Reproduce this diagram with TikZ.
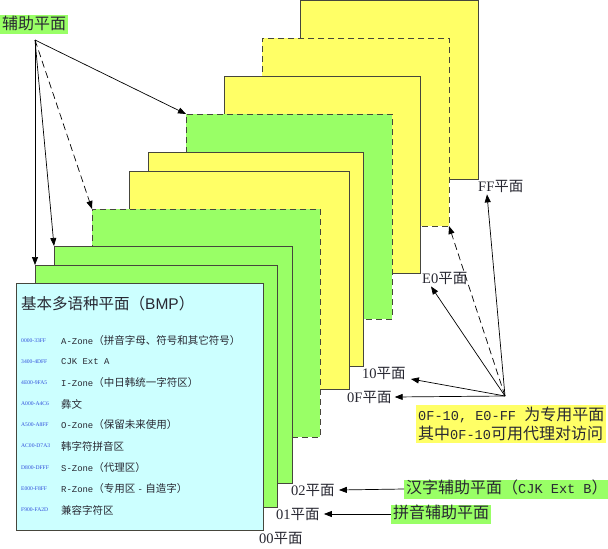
\documentclass[tikz,border=0pt]{standalone}
\usepackage{fontspec}
\setmainfont{Liberation Serif}
\newfontfamily\cjk{Noto Sans CJK SC}
\newfontfamily\mono[Scale=0.85]{Liberation Mono}
\newfontfamily\sansf{Liberation Sans}
\usetikzlibrary{arrows.meta}
\definecolor{yel}{RGB}{255,255,102}
\definecolor{grn}{RGB}{153,255,102}
\definecolor{cyn}{RGB}{204,255,255}
\definecolor{edgec}{RGB}{70,70,60}
\definecolor{codeblue}{RGB}{50,80,220}
\definecolor{txt}{RGB}{40,40,50}
\begin{document}
\begin{tikzpicture}[x=1pt,y=-1pt,
  plane/.style={draw=edgec, line width=0.9pt, inner sep=0pt, outer sep=0pt, anchor=north west},
  dplane/.style={plane, dash pattern=on 6pt off 4pt},
  arr/.style={-{Triangle[length=8pt,width=6pt]}, line width=0.7pt, black},
  darr/.style={arr, dash pattern=on 7pt off 4pt},
  lbl/.style={font=\fontsize{14.5}{16}\selectfont, inner sep=1pt, anchor=west, text=txt},
  tag/.style={font=\cjk\fontsize{16}{19}\selectfont, inner xsep=2pt, inner ysep=1pt, text height=13pt, text depth=4pt, text=txt},
  code/.style={font=\fontsize{5.6}{6}\selectfont, text=codeblue, inner sep=0pt, anchor=west},
  row/.style={font=\cjk\fontsize{10.5}{12}\selectfont, text=txt, inner sep=0pt, anchor=west}
]
\useasboundingbox (0,0) rectangle (608,549);
% planes, back to front
\node[plane, fill=yel, minimum width=178pt, minimum height=178.5pt] (pFF) at (300,0.5) {};
\node[dplane, fill=yel, minimum width=187pt, minimum height=188pt] (pDy) at (262,38) {};
\node[plane, fill=yel, minimum width=196pt, minimum height=197pt] (pE0) at (224,76) {};
\node[dplane, fill=grn, minimum width=206pt, minimum height=205pt] (pDg) at (186,114) {};
\node[plane, fill=yel, minimum width=215pt, minimum height=214pt] (p10) at (148,152) {};
\node[plane, fill=yel, minimum width=220pt, minimum height=218pt] (p0F) at (129,171) {};
\node[dplane, fill=grn, minimum width=228pt, minimum height=228pt] (pDg2) at (92,209) {};
\node[plane, fill=grn, minimum width=238pt, minimum height=237pt] (p02) at (54,246) {};
\node[plane, fill=grn, minimum width=242pt, minimum height=242pt] (p01) at (35,265) {};
\node[plane, fill=cyn, minimum width=247pt, minimum height=247pt] (p00) at (16,283) {};

% BMP contents
\node[font=\fontsize{15.5}{17}\selectfont, text=txt, inner sep=0pt, anchor=west] (bmpt) at (21,304) {{\cjk 基本多语种平面（}{\sansf BMP}{\cjk ）}};
\node[code] (c1) at (21,341) {0000-33FF};
\node[code] (c2) at (21,362) {3400-4DFF};
\node[code] (c3) at (21,383) {4E00-9FA5};
\node[code] (c4) at (21,404) {A000-A4C6};
\node[code] (c5) at (21,425) {A500-A8FF};
\node[code] (c6) at (21,446) {AC00-D7A3};
\node[code] (c7) at (21,468) {D800-DFFF};
\node[code] (c8) at (21,489) {E000-F8FF};
\node[code] (c9) at (21,510) {F900-FA2D};
\node[row] (r1) at (61,341) {{\mono A-Zone}（拼音字母、符号和其它符号）};
\node[row] (r2) at (61,362) {{\mono CJK Ext A}};
\node[row] (r3) at (61,383) {{\mono I-Zone}（中日韩统一字符区）};
\node[row] (r4) at (61,404) {彝文};
\node[row] (r5) at (61,425) {{\mono O-Zone}（保留未来使用）};
\node[row] (r6) at (61,446) {韩字符拼音区};
\node[row] (r7) at (61,468) {{\mono S-Zone}（代理区）};
\node[row] (r8) at (61,489) {{\mono R-Zone}（专用区 {\mono -} 自造字）};
\node[row] (r9) at (61,510) {兼容字符区};

% plane labels
\node[lbl] (lFF) at (477,186) {FF{\cjk 平面}};
\node[lbl] (lE0) at (421,278) {E0{\cjk 平面}};
\node[lbl] (l10) at (361,373) {10{\cjk 平面}};
\node[lbl] (l0F) at (346,397) {0F{\cjk 平面}};
\node[lbl] (l02) at (290,490) {02{\cjk 平面}};
\node[lbl] (l01) at (275,514) {01{\cjk 平面}};
\node[lbl] (l00) at (258,538) {00{\cjk 平面}};

% callout boxes
\node[tag, fill=grn, anchor=north west] (lAux) at (0,15) {辅助平面};
\node[font=\cjk\fontsize{16}{19}\selectfont, fill=yel, text=txt, inner xsep=2pt, inner ysep=2pt, align=left, anchor=north west] (lPriv) at (416,405) {{\mono 0F-10, E0-FF }为专用平面\\其中{\mono 0F-10}可用代理对访问};
\node[tag, fill=grn, anchor=west] (lHan) at (404,489) {汉字辅助平面（{\mono CJK Ext B}）};
\node[tag, fill=grn, anchor=west] (lPin) at (391,514) {拼音辅助平面};

\coordinate (auxsrc) at (35,40);
\coordinate (hub) at (505,396);

% arrows from auxiliary label
\draw[arr] (auxsrc) -- (p01.north west);
\draw[arr] (auxsrc) -- (p02.north west);
\draw[darr] (auxsrc) -- (pDg2.north west);
\draw[arr] (auxsrc) -- (pDg.north west);

% arrows from private-use hub
\draw[arr] (hub) -- ([xshift=10pt,yshift=-1pt]lFF.south west);
\draw[darr] (hub) -- (pDy.south east);
\draw[arr] (hub) -- ([xshift=10pt,yshift=-1pt]lE0.south west);
\draw[arr] (hub) -- ([xshift=4pt,yshift=-6pt]l10.east);
\draw[arr] (hub) -- ([xshift=2pt]l0F.east);

% bottom arrows
\draw[arr] (lHan.west) -- ([xshift=3pt]l02.east);
\draw[arr] (lPin.west) -- ([xshift=3pt]l01.east);
\end{tikzpicture}
\end{document}
